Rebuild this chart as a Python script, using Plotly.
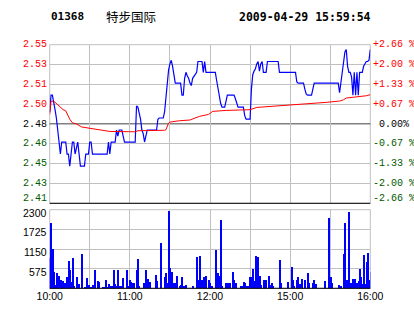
import plotly.graph_objects as go

W, H = 414, 314

stock_code = "01368"
stock_name = "特步国际"
stamp = "2009-04-29 15:59:54"
pre_close = 2.48

pct_ticks = [-2.66, -2.00, -1.33, -0.67, 0.00, 0.67, 1.33, 2.00, 2.66]
left_labels = ["2.41", "2.43", "2.45", "2.46", "2.48", "2.50", "2.51", "2.53", "2.55"]
right_labels = ["-2.66 %", "-2.00 %", "-1.33 %", "-0.67 %", "\u00a00.00%",
                "+0.67 %", "+1.33 %", "+2.00 %", "+2.66 %"]

time_ticks = [0, 30, 60, 90, 120, 150, 180, 210, 240]
time_labels = ["10:00", "", "11:00", "", "12:00", "", "15:00", "", "16:00"]

vol_ticks = [0, 575, 1150, 1725, 2300]
vol_labels = ["", "575", "1150", "1725", "2300"]

# minute index since 10:00 (trading minutes) and last price
price_min = list(range(0, 241))
price = [
    2.490, 2.504, 2.504, 2.499, 2.492, 2.485, 2.475, 2.465, 2.455, 2.465,
    2.465, 2.465, 2.465, 2.455, 2.455, 2.445, 2.455, 2.465, 2.465, 2.455,
    2.460, 2.465, 2.455, 2.445, 2.445, 2.445, 2.445, 2.455, 2.455, 2.455,
    2.465, 2.465, 2.455, 2.455, 2.455, 2.455, 2.455, 2.455, 2.455, 2.455,
    2.455, 2.455, 2.455, 2.455, 2.465, 2.455, 2.465, 2.465, 2.465, 2.465,
    2.475, 2.470, 2.475, 2.475, 2.475, 2.470, 2.465, 2.465, 2.465, 2.465,
    2.465, 2.465, 2.465, 2.465, 2.465, 2.495, 2.494, 2.489, 2.484, 2.475,
    2.472, 2.465, 2.470, 2.475, 2.475, 2.475, 2.475, 2.475, 2.475, 2.475,
    2.475, 2.484, 2.485, 2.485, 2.485, 2.485, 2.490, 2.504, 2.517, 2.525,
    2.530, 2.533, 2.528, 2.520, 2.514, 2.514, 2.514, 2.514, 2.514, 2.504,
    2.504, 2.518, 2.523, 2.520, 2.518, 2.514, 2.512, 2.518, 2.520, 2.522,
    2.523, 2.532, 2.532, 2.532, 2.532, 2.523, 2.532, 2.523, 2.523, 2.523,
    2.523, 2.523, 2.523, 2.523, 2.523, 2.516, 2.509, 2.502, 2.497, 2.494,
    2.494, 2.494, 2.499, 2.504, 2.504, 2.504, 2.504, 2.504, 2.504, 2.501,
    2.497, 2.494, 2.494, 2.494, 2.494, 2.494, 2.487, 2.484, 2.484, 2.484,
    2.484, 2.509, 2.521, 2.524, 2.526, 2.530, 2.532, 2.524, 2.530, 2.532,
    2.523, 2.523, 2.523, 2.532, 2.532, 2.532, 2.532, 2.532, 2.532, 2.532,
    2.532, 2.532, 2.523, 2.523, 2.523, 2.523, 2.523, 2.523, 2.523, 2.523,
    2.523, 2.523, 2.523, 2.523, 2.523, 2.515, 2.514, 2.514, 2.514, 2.514,
    2.514, 2.509, 2.505, 2.504, 2.504, 2.504, 2.504, 2.509, 2.514, 2.514,
    2.514, 2.514, 2.514, 2.514, 2.514, 2.514, 2.514, 2.514, 2.514, 2.514,
    2.514, 2.514, 2.514, 2.514, 2.514, 2.514, 2.514, 2.506, 2.515, 2.525,
    2.535, 2.540, 2.542, 2.528, 2.523, 2.523, 2.519, 2.504, 2.523, 2.504,
    2.523, 2.504, 2.523, 2.523, 2.523, 2.528, 2.530, 2.532, 2.532, 2.533,
    2.542,
]

# average price line
avg_min = [0, 1, 3, 5, 7, 10, 12, 14, 15, 17, 20, 24, 27, 35, 45, 59, 64, 66,
           80, 86, 87, 88, 89, 90, 97, 105, 110, 112, 119, 122, 132, 150, 155,
           167, 179, 190, 207, 217, 220, 222, 232, 237, 240]
avg_price = [2.488, 2.499, 2.499, 2.497, 2.495, 2.492, 2.491, 2.486, 2.484,
             2.481, 2.480, 2.4775, 2.477, 2.4753, 2.4738, 2.4736, 2.4735,
             2.4744, 2.4744, 2.4748, 2.4752, 2.4775, 2.4808, 2.4816, 2.4827,
             2.4833, 2.485, 2.4863, 2.488, 2.4905, 2.4913, 2.4919, 2.4938,
             2.4947, 2.4955, 2.4969, 2.498, 2.4991, 2.5002, 2.5016, 2.5025,
             2.5035, 2.5044]

# per-minute volume
vol_min = [0, 1, 2, 3, 4, 5, 6, 7, 8, 9, 10, 11, 12, 13, 14, 15, 16, 17, 18,
           20, 21, 22, 24, 26, 27, 28, 29, 31, 32, 34, 36, 37, 40, 41, 42, 43,
           44, 46, 47, 48, 49, 50, 51, 52, 53, 55, 58, 59, 60, 61, 62, 63, 65,
           66, 67, 70, 72, 73, 75, 79, 80, 83, 86, 87, 88, 89, 90, 91, 92, 93,
           94, 95, 97, 98, 99, 100, 101, 102, 107, 110, 111, 112, 114, 115,
           116, 117, 119, 120, 121, 124, 125, 126, 127, 128, 129, 132, 133,
           135, 137, 138, 139, 143, 144, 145, 146, 147, 148, 150, 151, 152,
           153, 154, 155, 156, 157, 158, 160, 161, 162, 164, 165, 166, 167,
           172, 173, 178, 181, 182, 183, 185, 186, 187, 189, 191, 193, 194,
           197, 198, 199, 206, 209, 210, 211, 216, 218, 220, 221, 222, 223,
           224, 225, 227, 228, 230, 231, 232, 233, 234, 235, 236, 237, 238,
           239, 240]
volume = [906, 1910, 1150, 497, 107, 448, 224, 380, 253, 156, 234, 156, 156,
          351, 799, 536, 185, 906, 88, 351, 88, 127, 1023, 49, 49, 322, 117,
          49, 97, 536, 234, 185, 58, 58, 244, 49, 127, 88, 88, 536, 127, 68,
          536, 68, 68, 302, 536, 68, 244, 185, 156, 156, 536, 858, 68, 156,
          536, 273, 185, 390, 214, 1325, 331, 448, 156, 2280, 595, 478, 156,
          156, 156, 361, 68, 97, 331, 68, 68, 117, 68, 916, 244, 945, 244,
          331, 68, 361, 244, 156, 68, 1120, 185, 448, 361, 1998, 68, 156, 156,
          156, 478, 244, 156, 68, 68, 185, 156, 68, 68, 331, 331, 565, 214,
          945, 127, 916, 361, 97, 244, 88, 244, 361, 97, 156, 68, 828, 156,
          185, 624, 244, 68, 244, 331, 127, 273, 244, 448, 156, 156, 244, 127,
          214, 2056, 331, 156, 97, 68, 1004, 1910, 244, 156, 2232, 156, 273,
          273, 156, 214, 565, 331, 127, 974, 127, 770, 1033, 244, 478]

GRID = "#c0c0c0"
RED = "#ff0000"
GREEN = "#005a00"
BLUE = "#0000ff"

x_dom = [49.7 / W, 370.3 / W]
py_dom = [1 - 203.3 / H, 1 - 44.7 / H]
vy_dom = [1 - 288.3 / H, 1 - 209.7 / H]

price_ticks = [pre_close * (1 + p / 100) for p in pct_ticks]
p_range = [price_ticks[0], price_ticks[-1]]

fig = go.Figure()
fig.add_trace(go.Scatter(x=price_min, y=price, mode="lines",
                         line=dict(color=BLUE, width=1.2),
                         xaxis="x", yaxis="y", hoverinfo="skip"))
fig.add_trace(go.Scatter(x=avg_min, y=avg_price, mode="lines",
                         line=dict(color=RED, width=1),
                         xaxis="x", yaxis="y", hoverinfo="skip"))
fig.add_trace(go.Bar(x=vol_min, y=volume, width=0.75,
                     marker=dict(color=BLUE, line=dict(width=0)),
                     xaxis="x2", yaxis="y2", hoverinfo="skip"))

axis_common = dict(showgrid=True, gridcolor=GRID, gridwidth=1, zeroline=False,
                   ticks="", fixedrange=True, automargin=False)

fig.update_layout(
    width=W, height=H,
    margin=dict(l=0, r=0, t=0, b=0, pad=0, autoexpand=False),
    paper_bgcolor="white", plot_bgcolor="white", showlegend=False,
    bargap=0,
    xaxis=dict(domain=x_dom, range=[0, 240], tickvals=time_ticks,
               showticklabels=False, anchor="y", **axis_common),
    yaxis=dict(domain=py_dom, range=p_range, tickvals=price_ticks,
               showticklabels=False, anchor="x", **axis_common),
    xaxis2=dict(domain=x_dom, range=[0, 240], tickvals=time_ticks,
                ticktext=time_labels, anchor="y2",
                tickfont=dict(family="Liberation Sans", size=10.5, color="black"),
                **axis_common),
    yaxis2=dict(domain=vy_dom, range=[0, 2300], tickvals=vol_ticks,
                showticklabels=False, anchor="x2", **axis_common),
)

shapes = []
for xr, yr in (("x domain", "y domain"), ("x2 domain", "y2 domain")):
    shapes.append(dict(type="rect", xref=xr, yref=yr, x0=0, x1=1, y0=0, y1=1,
                       line=dict(color=GRID, width=1), layer="below"))
    shapes.append(dict(type="line", xref=xr, yref=yr, x0=0, x1=1, y0=0, y1=0,
                       line=dict(color="black", width=1), layer="above"))
shapes.append(dict(type="line", xref="x domain", yref="y", x0=0, x1=1,
                   y0=pre_close, y1=pre_close,
                   line=dict(color="black", width=1), layer="below"))
fig.update_layout(shapes=shapes)

ann = []
mono = "Liberation Mono"
for i, (pv, pc) in enumerate(zip(price_ticks, pct_ticks)):
    col = RED if pc > 0 else (GREEN if pc < 0 else "black")
    shift = 5 if i == 0 else 0
    ann.append(dict(text=left_labels[i], xref="paper", yref="y",
                    x=48.5 / W, y=pv, xanchor="right", yanchor="middle",
                    yshift=shift, showarrow=False,
                    font=dict(family=mono, size=10, color=col)))
    ann.append(dict(text=right_labels[i], xref="paper", yref="y",
                    x=370.5 / W, y=pv, xanchor="left", yanchor="middle",
                    yshift=shift, showarrow=False,
                    font=dict(family=mono, size=10, color=col)))
for v, lab in zip(vol_ticks, vol_labels):
    if lab:
        ann.append(dict(text=lab, xref="paper", yref="y2", x=48.5 / W, y=v,
                        xanchor="right", yanchor="middle", yshift=-3,
                        showarrow=False,
                        font=dict(family="Liberation Sans", size=10.5,
                                  color="black")))
hy = 1 - 16.5 / H
ann.append(dict(text="<b>" + stock_code + "</b>", xref="paper", yref="paper",
                x=49 / W, y=hy, xanchor="left", yanchor="middle",
                showarrow=False,
                font=dict(family="DejaVu Sans Mono", size=11, color="black")))
ann.append(dict(text=stock_name, xref="paper", yref="paper",
                x=104 / W, y=hy, xanchor="left", yanchor="middle",
                showarrow=False,
                font=dict(family="Noto Sans CJK SC", size=12.5, color="black")))
ann.append(dict(text="<b>" + stamp + "</b>", xref="paper", yref="paper",
                x=236.5 / W, y=hy, xanchor="left", yanchor="middle",
                showarrow=False,
                font=dict(family="DejaVu Sans Mono", size=11.5, color="black")))
fig.update_layout(annotations=ann)

fig.write_html("out.html")
